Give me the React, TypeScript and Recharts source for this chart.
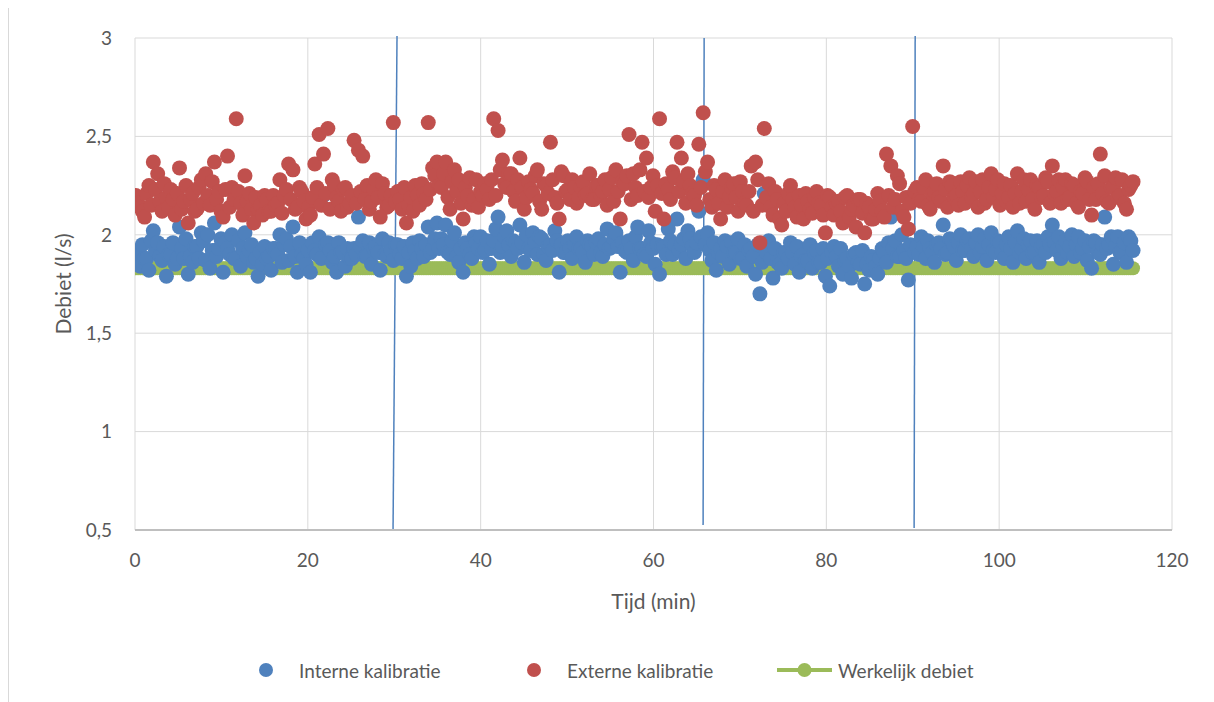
import { ComposedChart, Scatter, XAxis, YAxis, CartesianGrid, Legend, ReferenceLine } from 'recharts'

// meetmomenten: ongeveer elke 15 s; hoofdmetingen en tussenmetingen wisselen elkaar af
const TIJD_START = 0.1
const TIJD_STAP = 0.505

// hoofdmetingen
const interneKalibratie = [
  1.91, 1.84, 1.88, 1.82, 2.02, 1.96, 1.87, 1.79, 1.90, 1.85,
  2.04, 1.88, 1.80, 1.86, 1.94, 2.01, 1.87, 1.83, 2.06, 1.93,
  1.81, 1.93, 2.00, 1.88, 1.84, 2.01, 1.92, 1.86, 1.79, 1.85,
  1.88, 1.82, 1.93, 2.00, 1.95, 1.87, 2.04, 1.81, 1.90, 1.85,
  1.81, 1.92, 1.99, 2.20, 1.96, 1.86, 1.81, 1.91, 1.84, 1.88,
  1.93, 2.09, 1.97, 1.89, 1.85, 1.94, 1.82, 1.90, 1.96, 1.87,
  1.95, 1.88, 1.79, 1.84, 1.92, 1.97, 1.89, 2.04, 1.93, 2.06,
  1.98, 2.05, 1.90, 2.01, 1.86, 1.81, 1.93, 1.88, 1.96, 1.99,
  1.92, 1.85, 1.97, 2.09, 1.94, 2.02, 1.89, 1.96, 2.05, 1.86,
  1.93, 2.01, 1.90, 1.98, 1.87, 1.95, 2.02, 1.81, 1.91, 1.97,
  1.88, 1.99, 1.93, 1.86, 1.95, 1.90, 1.98, 1.89, 2.03, 1.94,
  2.01, 1.81, 1.92, 1.97, 1.87, 2.04, 1.93, 1.89, 1.96, 1.85,
  1.80, 1.94, 2.03, 1.90, 2.08, 1.95, 1.88, 1.98, 1.91, 2.12,
  2.28, 2.01, 1.87, 1.82, 1.93, 1.97, 1.85, 1.91, 1.98, 1.88,
  1.84, 1.93, 1.80, 1.70, 2.21, 1.97, 1.78, 1.86, 1.83, 1.91,
  1.96, 1.85, 1.81, 1.90, 1.87, 1.83, 1.92, 1.86, 1.79, 1.74,
  1.94, 1.84, 1.80, 1.88, 1.78, 1.91, 1.85, 1.75, 1.82, 1.87,
  1.80, 1.93, 1.86, 2.09, 1.97, 1.89, 1.92, 1.77, 2.20, 1.94,
  1.99, 1.88, 1.93, 1.86, 1.96, 2.05, 1.91, 1.97, 1.87, 2.00,
  1.92, 1.98, 1.89, 2.00, 1.94, 1.87, 2.01, 1.91, 1.96, 1.88,
  1.99, 1.86, 2.02, 1.93, 1.88, 1.97, 1.91, 1.86, 1.95, 1.99,
  2.05, 1.92, 1.88, 1.97, 1.94, 1.89, 1.99, 1.93, 1.87, 1.83,
  1.96, 1.90, 2.09, 1.95, 1.85, 1.99, 1.91, 1.86, 1.97,
]

// tussenmetingen (halve stap later)
const interneTussen = [
  1.90, 1.95, 1.88, 1.97, 1.92, 1.89, 1.94, 1.90, 1.96, 1.88,
  1.93, 1.98, 1.89, 1.94, 1.88, 1.97, 2.00, 1.92, 1.89, 1.98,
  1.96, 1.90, 1.88, 1.97, 1.93, 1.89, 1.95, 1.88, 1.91, 1.94,
  1.89, 1.93, 1.90, 1.86, 1.98, 1.94, 1.89, 1.96, 1.88, 1.92,
  1.96, 1.90, 1.88, 1.95, 1.92, 1.89, 1.96, 1.91, 1.93, 1.88,
  1.90, 1.94, 1.89, 1.96, 1.93, 1.91, 1.98, 1.89, 1.92, 1.95,
  1.90, 1.94, 1.91, 1.96, 1.88, 1.93, 1.95, 1.91, 1.98, 1.93,
  1.95, 1.91, 1.97, 1.89, 1.93, 1.96, 1.90, 1.99, 1.93, 1.91,
  1.97, 1.93, 2.03, 1.91, 1.99, 1.95, 1.97, 1.93, 1.96, 2.00,
  1.92, 1.96, 1.99, 1.90, 1.94, 1.92, 1.97, 1.95, 1.91, 1.93,
  1.95, 1.93, 1.91, 1.97, 1.94, 1.96, 1.91, 1.95, 1.93, 1.98,
  1.94, 1.96, 1.91, 1.93, 1.99, 1.93, 1.90, 2.02, 1.93, 1.95,
  1.94, 1.90, 1.97, 1.95, 1.92, 1.98, 2.02, 1.94, 1.96, 1.99,
  1.95, 1.92, 1.96, 1.91, 1.89, 1.94, 1.96, 1.91, 1.88, 1.95,
  1.92, 1.89, 1.95, 1.86, 1.91, 1.88, 1.93, 1.85, 1.91, 1.88,
  1.91, 1.94, 1.89, 1.87, 1.95, 1.91, 1.86, 1.93, 1.88, 1.91,
  1.89, 1.93, 1.87, 1.84, 1.90, 1.86, 1.92, 1.85, 1.89, 1.84,
  1.88, 1.91, 1.96, 1.93, 1.89, 2.00, 1.88, 1.95, 1.91, 1.90,
  1.94, 1.97, 1.91, 1.95, 1.93, 1.90, 1.98, 1.94, 1.96, 1.92,
  1.97, 1.93, 1.96, 1.91, 1.98, 1.95, 1.92, 1.97, 1.91, 1.95,
  1.93, 1.96, 1.91, 1.98, 1.95, 1.91, 1.97, 1.94, 1.91, 1.95,
  1.96, 1.99, 1.94, 1.91, 2.00, 1.95, 1.91, 1.97, 1.94, 1.97,
  1.91, 1.95, 1.93, 1.99, 1.94, 1.91, 1.96, 1.99, 1.92,
]

const externeKalibratie = [
  2.20, 2.14, 2.09, 2.25, 2.37, 2.31, 2.12, 2.19, 2.23, 2.10,
  2.34, 2.17, 2.06, 2.21, 2.13, 2.28, 2.31, 2.15, 2.37, 2.22,
  2.09, 2.40, 2.24, 2.59, 2.16, 2.30, 2.21, 2.06, 2.13, 2.10,
  2.18, 2.12, 2.15, 2.28, 2.20, 2.36, 2.33, 2.14, 2.22, 2.08,
  2.10, 2.36, 2.51, 2.41, 2.54, 2.28, 2.19, 2.12, 2.24, 2.16,
  2.48, 2.43, 2.40, 2.25, 2.17, 2.28, 2.09, 2.21, 2.15, 2.57,
  2.22, 2.13, 2.06, 2.19, 2.25, 2.15, 2.21, 2.57, 2.34, 2.37,
  2.24, 2.37, 2.13, 2.33, 2.28, 2.08, 2.20, 2.15, 2.28, 2.22,
  2.26, 2.18, 2.59, 2.53, 2.38, 2.24, 2.31, 2.17, 2.39, 2.13,
  2.27, 2.21, 2.33, 2.13, 2.25, 2.47, 2.19, 2.08, 2.30, 2.23,
  2.28, 2.16, 2.24, 2.20, 2.31, 2.18, 2.25, 2.22, 2.15, 2.29,
  2.33, 2.08, 2.26, 2.51, 2.31, 2.20, 2.47, 2.39, 2.24, 2.12,
  2.59, 2.08, 2.23, 2.32, 2.47, 2.39, 2.16, 2.25, 2.20, 2.46,
  2.62, 2.37, 2.14, 2.23, 2.08, 2.28, 2.19, 2.26, 2.12, 2.22,
  2.15, 2.35, 2.37, 1.96, 2.54, 2.26, 2.10, 2.18, 2.05, 2.12,
  2.25, 2.14, 2.20, 2.08, 2.17, 2.11, 2.22, 2.15, 2.01, 2.19,
  2.10, 2.17, 2.06, 2.20, 2.13, 2.04, 2.18, 2.01, 2.14, 2.08,
  2.21, 2.12, 2.41, 2.35, 2.18, 2.26, 2.09, 2.03, 2.55, 2.24,
  2.17, 2.28, 2.13, 2.22, 2.19, 2.35, 2.14, 2.25, 2.20, 2.27,
  2.16, 2.29, 2.21, 2.14, 2.28, 2.18, 2.31, 2.23, 2.15, 2.26,
  2.19, 2.14, 2.31, 2.22, 2.17, 2.28, 2.13, 2.24, 2.20, 2.27,
  2.35, 2.22, 2.16, 2.28, 2.19, 2.25, 2.14, 2.21, 2.27, 2.10,
  2.18, 2.41, 2.30, 2.16, 2.24, 2.19, 2.28, 2.13, 2.25,
]

const externeTussen = [
  2.16, 2.12, 2.21, 2.15, 2.23, 2.17, 2.26, 2.14, 2.18, 2.21,
  2.13, 2.25, 2.18, 2.12, 2.24, 2.16, 2.20, 2.27, 2.18, 2.12,
  2.23, 2.14, 2.18, 2.22, 2.10, 2.17, 2.13, 2.19, 2.15, 2.20,
  2.12, 2.20, 2.16, 2.11, 2.23, 2.18, 2.13, 2.24, 2.17, 2.14,
  2.19, 2.24, 2.15, 2.21, 2.13, 2.25, 2.17, 2.23, 2.14, 2.20,
  2.16, 2.22, 2.18, 2.13, 2.23, 2.19, 2.26, 2.14, 2.20, 2.17,
  2.18, 2.24, 2.15, 2.12, 2.20, 2.26, 2.18, 2.23, 2.30, 2.25,
  2.31, 2.19, 2.27, 2.22, 2.16, 2.24, 2.29, 2.18, 2.14, 2.20,
  2.23, 2.28, 2.20, 2.33, 2.26, 2.31, 2.22, 2.28, 2.24, 2.19,
  2.23, 2.30, 2.17, 2.26, 2.21, 2.28, 2.16, 2.32, 2.22, 2.18,
  2.24, 2.19, 2.27, 2.21, 2.18, 2.25, 2.20, 2.28, 2.23, 2.17,
  2.22, 2.27, 2.30, 2.18, 2.24, 2.33, 2.22, 2.19, 2.30, 2.25,
  2.21, 2.26, 2.18, 2.29, 2.22, 2.27, 2.31, 2.21, 2.15, 2.24,
  2.32, 2.18, 2.25, 2.16, 2.22, 2.14, 2.24, 2.19, 2.27, 2.16,
  2.22, 2.12, 2.28, 2.15, 2.19, 2.14, 2.22, 2.08, 2.16, 2.21,
  2.18, 2.09, 2.15, 2.21, 2.13, 2.19, 2.16, 2.10, 2.20, 2.14,
  2.16, 2.12, 2.19, 2.09, 2.15, 2.18, 2.11, 2.16, 2.08, 2.13,
  2.17, 2.09, 2.20, 2.14, 2.30, 2.12, 2.19, 2.16, 2.22, 2.18,
  2.24, 2.15, 2.21, 2.26, 2.17, 2.23, 2.27, 2.19, 2.15, 2.22,
  2.25, 2.19, 2.27, 2.22, 2.16, 2.24, 2.19, 2.28, 2.21, 2.17,
  2.25, 2.21, 2.16, 2.28, 2.23, 2.18, 2.25, 2.19, 2.29, 2.16,
  2.21, 2.28, 2.24, 2.18, 2.26, 2.16, 2.22, 2.29, 2.18, 2.24,
  2.26, 2.21, 2.17, 2.24, 2.29, 2.20, 2.16, 2.23, 2.27,
]

const werkelijkDebiet = 1.83

const xTicks = [0, 20, 40, 60, 80, 100, 120]
const yTicks = [0.5, 1, 1.5, 2, 2.5, 3]

// de drie (licht schuine) scheidingslijnen tussen de meetblokken
const scheidingslijnen = [
  { x1: 29.86, y1: 0.5, x2: 30.32, y2: 3.01 },
  { x1: 65.74, y1: 0.525, x2: 65.86, y2: 3.0 },
  { x1: 90.16, y1: 0.51, x2: 90.28, y2: 3.01 },
]

const BLAUW = '#4f81bd'
const ROOD = '#c0504d'
const GROEN = '#9bbb59'
const TEKST = '#595959'
const FONT = 'Lato, "Liberation Sans", sans-serif'

const data = interneKalibratie.flatMap((intern, i) => {
  const t = TIJD_START + i * TIJD_STAP
  return [
    { tijd: +t.toFixed(3), intern, extern: externeKalibratie[i], werkelijk: werkelijkDebiet },
    {
      tijd: +(t + TIJD_STAP / 2).toFixed(3),
      intern: interneTussen[i],
      extern: externeTussen[i],
      werkelijk: werkelijkDebiet,
    },
  ]
})

const fmtKomma = (v: number) => String(v).replace('.', ',')

function Punt({ cx, cy, fill, r = 7.5 }: any) {
  if (cx == null || cy == null) return null
  return <circle cx={cx} cy={cy} r={r} fill={fill} />
}

function Legenda() {
  const dot = (kleur: string) => (
    <span style={{ display: 'inline-block', width: 14, height: 14, borderRadius: 7, background: kleur }} />
  )
  const tekst = (t: string, w: number) => (
    <span style={{ display: 'inline-block', width: w, whiteSpace: 'nowrap', color: TEKST }}>{t}</span>
  )
  return (
    <div style={{ height: 60, display: 'flex', alignItems: 'center', paddingLeft: 250, paddingBottom: 4, boxSizing: 'border-box', fontFamily: FONT, fontSize: 19 }}>
      {dot(BLAUW)}
      <span style={{ width: 26 }} />
      {tekst('Interne kalibratie', 167)}
      <span style={{ width: 61 }} />
      {dot(ROOD)}
      <span style={{ width: 26 }} />
      {tekst('Externe kalibratie', 169)}
      <span style={{ width: 41 }} />
      <svg width={55} height={16}>
        <line x1={0} y1={8} x2={55} y2={8} stroke={GROEN} strokeWidth={4} />
        <circle cx={27.5} cy={8} r={7} fill={GROEN} />
      </svg>
      <span style={{ width: 6 }} />
      {tekst('Werkelijk debiet', 170)}
    </div>
  )
}

export default function App() {
  return (
    <div style={{ marginTop: -8, paddingTop: 8, borderLeft: '1px solid #d9d9d9', width: 1197, background: '#fff' }}>
      <ComposedChart
        width={1197}
        height={694}
        data={data}
        margin={{ top: 30, right: 34, left: 0, bottom: 0 }}
        style={{ fontFamily: FONT }}
      >
        <CartesianGrid stroke="#d9d9d9" strokeWidth={1} />
        <XAxis
          type="number"
          dataKey="tijd"
          domain={[0, 120]}
          ticks={xTicks}
          allowDataOverflow
          height={112}
          tickLine={false}
          axisLine={{ stroke: '#bfbfbf', strokeWidth: 2 }}
          tickMargin={18}
          tick={{ fill: TEKST, fontSize: 19 }}
          label={{
            content: (p: any) => {
              const vb = p.viewBox || { x: 126, y: 522, width: 1037 }
              return (
                <text x={vb.x + vb.width / 2} y={vb.y + 70} textAnchor="middle" dominantBaseline="central" fill={TEKST} fontSize={21} fontFamily={FONT}>
                  Tijd (min)
                </text>
              )
            },
          }}
        />
        <YAxis
          type="number"
          domain={[0.5, 3]}
          ticks={yTicks}
          allowDataOverflow
          width={126}
          tickLine={false}
          axisLine={false}
          tickMargin={17}
          tickFormatter={fmtKomma}
          tick={{ fill: TEKST, fontSize: 19 }}
          label={{
            content: (p: any) => {
              const vb = p.viewBox || { y: 30, height: 492 }
              const cy = vb.y + vb.height / 2
              return (
                <text x={53} y={cy} transform={`rotate(-90, 53, ${cy})`} textAnchor="middle" dominantBaseline="central" fill={TEKST} fontSize={21} fontFamily={FONT}>
                  Debiet (l/s)
                </text>
              )
            },
          }}
        />
        <Scatter
          dataKey="werkelijk"
          fill={GROEN}
          line={{ stroke: GROEN, strokeWidth: 3 }}
          lineType="joint"
          shape={<Punt fill={GROEN} r={7} />}
          isAnimationActive={false}
          name="Werkelijk debiet"
        />
        <Scatter dataKey="intern" fill={BLAUW} shape={<Punt fill={BLAUW} />} isAnimationActive={false} name="Interne kalibratie" />
        <Scatter dataKey="extern" fill={ROOD} shape={<Punt fill={ROOD} />} isAnimationActive={false} name="Externe kalibratie" />
        {scheidingslijnen.map((s, i) => (
          <ReferenceLine
            key={i}
            segment={[{ x: s.x1, y: s.y1 }, { x: s.x2, y: s.y2 }]}
            stroke={BLAUW}
            strokeWidth={1.5}
            ifOverflow="visible"
          />
        ))}
        <Legend verticalAlign="bottom" content={() => <Legenda />} wrapperStyle={{ height: 60 }} />
      </ComposedChart>
    </div>
  )
}
